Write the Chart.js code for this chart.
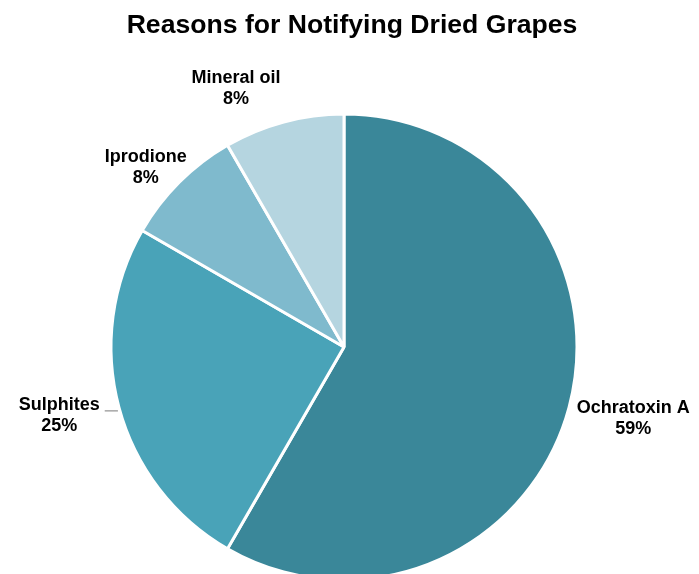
<!DOCTYPE html>
<html>
<head>
<meta charset="utf-8">
<script src="https://cdn.jsdelivr.net/npm/chart.js@4/dist/chart.umd.min.js"></script>
<style>
html,body{margin:0;padding:0;overflow:hidden;background:#fff;}
canvas{display:block;}
</style>
</head>
<body>
<canvas id="c" width="699" height="647"></canvas>
<script>
const categories = ["Ochratoxin A", "Sulphites", "Iprodione", "Mineral oil"];
// slice sizes
const counts = [7, 3, 1, 1];
// percentage labels as printed on the chart
const percentLabels = ["59%", "25%", "8%", "8%"];
const colors = ["#3a8799", "#49a3b8", "#7fbacd", "#b5d5e0"];
const titleText = "Reasons for Notifying Dried Grapes";

// label placement tweaks (styling, relative nudges in px; third item = leader line)
const labelNudge = { "Ochratoxin A": [-2, 3], "Sulphites": [-9, 0, true], "Iprodione": [4, 9], "Mineral oil": [-33, -2] };

const FONT = '"Liberation Sans", Arial, sans-serif';

const titlePlugin = {
  id: 'myTitle',
  afterDraw(chart) {
    const ctx = chart.ctx;
    ctx.save();
    ctx.font = 'bold 26.6px ' + FONT;
    ctx.fillStyle = '#000';
    ctx.textAlign = 'center';
    ctx.textBaseline = 'middle';
    ctx.fillText(titleText, chart.width / 2 + 2.5, 26);
    ctx.restore();
  }
};

const labelPlugin = {
  id: 'outLabels',
  afterDatasetsDraw(chart) {
    const ctx = chart.ctx;
    const meta = chart.getDatasetMeta(0);
    ctx.save();
    ctx.font = 'bold 18px ' + FONT;
    ctx.textAlign = 'center';
    ctx.textBaseline = 'middle';
    const lh = 21;
    meta.data.forEach((arc, i) => {
      const mid = (arc.startAngle + arc.endAngle) / 2;
      const ux = Math.cos(mid), uy = Math.sin(mid);
      const R = arc.outerRadius;
      const r = R + 12;
      const l1 = categories[i], l2 = percentLabels[i];
      const w = Math.max(ctx.measureText(l1).width, ctx.measureText(l2).width);
      const hw = w / 2, hh = lh;
      const n = labelNudge[l1] || [0, 0, false];
      const cx = arc.x + ux * r + ux * hw + n[0];
      const cy = arc.y + uy * r + uy * hh + n[1];
      if (n[2]) {
        const ly = cy - 5;
        const dy = ly - arc.y;
        const edge = arc.x - Math.sqrt(R * R - dy * dy);
        ctx.strokeStyle = '#a6a6a6';
        ctx.lineWidth = 1.5;
        ctx.beginPath();
        ctx.moveTo(cx + ctx.measureText(l1).width / 2 + 5, ly);
        ctx.lineTo(edge - 2, ly);
        ctx.stroke();
      }
      ctx.fillStyle = '#000';
      ctx.fillText(l1, cx, cy - lh / 2);
      ctx.fillText(l2, cx, cy + lh / 2);
    });
    ctx.restore();
  }
};

new Chart(document.getElementById('c'), {
  type: 'pie',
  data: {
    labels: categories,
    datasets: [{
      data: counts,
      backgroundColor: colors,
      borderColor: '#ffffff',
      borderWidth: 3
    }]
  },
  options: {
    responsive: false,
    animation: false,
    radius: 233,
    layout: { padding: { top: 47, right: 11 } },
    plugins: {
      legend: { display: false },
      tooltip: { enabled: false },
      title: { display: false }
    }
  },
  plugins: [labelPlugin, titlePlugin]
});
</script>
</body>
</html>
